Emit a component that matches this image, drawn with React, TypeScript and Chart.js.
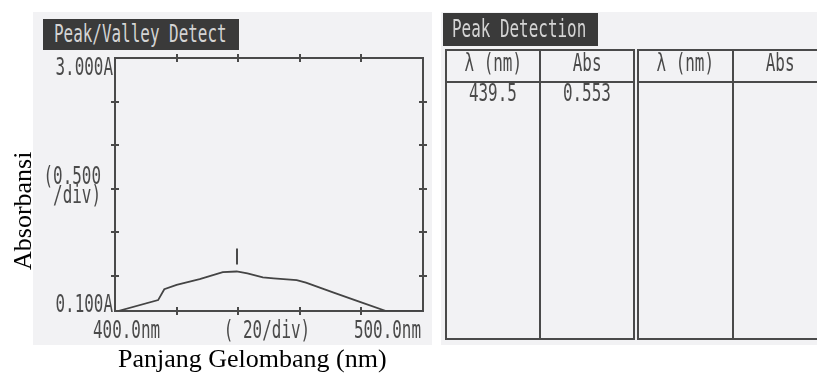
import { useEffect, useRef } from 'react';
import { Chart, registerables } from 'chart.js';

Chart.register(...registerables);

// ---- data ----
const wavelengths = [401, 414, 416, 420, 427.5, 435, 439.5, 443, 448, 451.5, 459, 462, 471, 479.5, 488, 500];
const absorbance = [0.1, 0.225, 0.35, 0.4, 0.465, 0.545, 0.553, 0.53, 0.485, 0.475, 0.455, 0.425, 0.31, 0.205, 0.1, 0.1];
const xTicks = [400, 420, 440, 460, 480, 500];
const yTicks = [0.1, 0.5, 1.0, 1.5, 2.0, 2.5, 3.0];
const xLabelStart = '400.0nm';
const xLabelMid = '( 20/div)';
const xLabelEnd = '500.0nm';
const yLabelTop = '3.000A';
const yLabelMid = ['(0.500', '/div)'];
const yLabelBottom = '0.100A';
const peakWavelengths = [439.5];
const peakAbsorbances = [0.553];
const chartTitle = 'Peak/Valley Detect';
const tableTitle = 'Peak Detection';
const tableHeaders = ['λ (nm)', 'Abs'];
const xAxisTitle = 'Panjang Gelombang (nm)';
const yAxisTitle = 'Absorbansi';

// ---- styles ----
const INK = '#4a4a4a';
const PAPER = 'rgb(242,242,244)';
const DARK = '#3a3a3a';
const LIGHT = '#d4d4d4';
const MONO = '"DejaVu Sans Mono", "Liberation Mono", monospace';
const SERIF = '"Liberation Serif", "Times New Roman", serif';
const SX = 0.65;
const FS = 24.5;

function condensed(ctx: CanvasRenderingContext2D, text: string, x: number, y: number, align: CanvasTextAlign) {
  ctx.save();
  ctx.translate(x, y);
  ctx.scale(SX, 1);
  ctx.textAlign = align;
  ctx.textBaseline = 'alphabetic';
  ctx.fillText(text, 0, 0);
  ctx.restore();
}

const printerPlugin = {
  id: 'printer',
  afterDraw(chart: any) {
    const { ctx, chartArea: a, scales } = chart;
    const x = scales.x;
    const y = scales.y;
    ctx.save();
    ctx.strokeStyle = INK;
    ctx.lineWidth = 2;
    ctx.beginPath();
    xTicks.slice(1, -1).forEach((v) => {
      const px = Math.round(x.getPixelForValue(v));
      ctx.moveTo(px, a.bottom - 4);
      ctx.lineTo(px, a.bottom + 4);
      ctx.moveTo(px, a.top - 4);
      ctx.lineTo(px, a.top + 4);
    });
    yTicks.slice(1, -1).forEach((v) => {
      const py = Math.round(y.getPixelForValue(v));
      ctx.moveTo(a.left - 4, py);
      ctx.lineTo(a.left + 4, py);
      ctx.moveTo(a.right - 4, py);
      ctx.lineTo(a.right + 4, py);
    });
    // peak markers
    peakWavelengths.forEach((w, i) => {
      const px = Math.round(x.getPixelForValue(w));
      const py = y.getPixelForValue(peakAbsorbances[i]);
      ctx.moveTo(px, py - 23);
      ctx.lineTo(px, py - 7);
    });
    ctx.stroke();

    ctx.fillStyle = INK;
    ctx.font = `${FS}px ${MONO}`;
    const yTop = y.getPixelForValue(yTicks[yTicks.length - 1]);
    const yBot = y.getPixelForValue(yTicks[0]);
    const yMid = y.getPixelForValue(yTicks[3]);
    condensed(ctx, yLabelTop, a.left - 2, yTop + 17, 'right');
    condensed(ctx, yLabelMid[0], a.left - 14, yMid - 5, 'right');
    condensed(ctx, yLabelMid[1], a.left - 14, yMid + 14, 'right');
    condensed(ctx, yLabelBottom, a.left - 2, yBot + 1, 'right');
    const xl = x.getPixelForValue(xTicks[0]);
    const xr = x.getPixelForValue(xTicks[xTicks.length - 1]);
    const base = a.bottom + 27;
    condensed(ctx, xLabelStart, xl - 22, base, 'left');
    condensed(ctx, xLabelMid, (xl + xr) / 2 - 2, base, 'center');
    condensed(ctx, xLabelEnd, xr - 2, base, 'right');
    ctx.restore();
  },
};

function axisCommon(extra: any) {
  return {
    type: 'linear',
    ticks: { display: false },
    grid: { drawOnChartArea: false, drawTicks: false, color: INK, lineWidth: 2 },
    border: { display: true, color: INK, width: 2 },
    ...extra,
  };
}

function Txt(props: { x: number; base: number; w?: number; align?: 'left' | 'center'; color?: string; text: string }) {
  const { x, base, w, align = 'left', color = INK, text } = props;
  const top = base - 0.846 * FS;
  return (
    <div
      style={{
        position: 'absolute',
        left: x,
        top,
        width: w,
        textAlign: align,
        font: `${FS}px ${MONO}`,
        lineHeight: `${FS}px`,
        color,
        whiteSpace: 'pre',
      }}
    >
      <span style={{ display: 'inline-block', transform: `scaleX(${SX})`, transformOrigin: align === 'center' ? 'center' : 'left' }}>
        {text}
      </span>
    </div>
  );
}

function Line(props: { l: number; t: number; w: number; h: number }) {
  return <div style={{ position: 'absolute', left: props.l, top: props.t, width: props.w, height: props.h, background: INK }} />;
}

export default function App() {
  const ref = useRef<HTMLCanvasElement | null>(null);

  useEffect(() => {
    document.body.style.margin = '0';
    const canvas = ref.current;
    if (!canvas) return;
    const chart = new Chart(canvas, {
      type: 'line',
      data: {
        datasets: [
          {
            data: wavelengths.map((w, i) => ({ x: w, y: absorbance[i] })),
            borderColor: '#444444',
            borderWidth: 1.8,
            pointRadius: 0,
            tension: 0,
            fill: false,
            xAxisID: 'x',
            yAxisID: 'y',
          },
        ],
      },
      options: {
        animation: false,
        responsive: false,
        events: [],
        layout: { padding: 0 },
        plugins: { legend: { display: false }, tooltip: { enabled: false }, title: { display: false } },
        scales: {
          x: axisCommon({
            position: 'bottom',
            min: xTicks[0],
            max: xTicks[xTicks.length - 1],
            afterBuildTicks: (s: any) => { s.ticks = xTicks.map((v) => ({ value: v })); },
            afterFit: (s: any) => { s.height = 34; },
          }),
          xTop: axisCommon({
            position: 'top',
            min: xTicks[0],
            max: xTicks[xTicks.length - 1],
            afterFit: (s: any) => { s.height = 46; },
          }),
          y: axisCommon({
            position: 'left',
            min: yTicks[0],
            max: yTicks[yTicks.length - 1],
            afterBuildTicks: (s: any) => { s.ticks = yTicks.map((v) => ({ value: v })); },
            afterFit: (s: any) => { s.width = 82; },
          }),
          yRight: axisCommon({
            position: 'right',
            min: yTicks[0],
            max: yTicks[yTicks.length - 1],
            afterFit: (s: any) => { s.width = 9; },
          }),
        },
      } as any,
      plugins: [printerPlugin],
    });
    return () => chart.destroy();
  }, []);

  const col1 = [446, 540];
  const col2 = [540, 634];

  return (
    <div style={{ position: 'relative', width: 817, height: 374, background: '#fff', overflow: 'hidden' }}>
      {/* left printout */}
      <div style={{ position: 'absolute', left: 33, top: 12, width: 399, height: 333, background: PAPER }} />
      <canvas ref={ref} width={399} height={333} style={{ position: 'absolute', left: 33, top: 12, width: 399, height: 333 }} />
      <div style={{ position: 'absolute', left: 43, top: 19, width: 196, height: 31, background: DARK }} />
      <Txt x={54} base={43} color={LIGHT} text={chartTitle} />

      {/* right printout */}
      <div style={{ position: 'absolute', left: 441, top: 12, width: 376, height: 333, background: PAPER }} />
      <div style={{ position: 'absolute', left: 443, top: 13, width: 155, height: 33, background: DARK }} />
      <Txt x={452} base={38} color={LIGHT} text={tableTitle} />

      {/* table 1 */}
      <Line l={445} t={49} w={190} h={2} />
      <Line l={445} t={338} w={190} h={2} />
      <Line l={445} t={49} w={2} h={291} />
      <Line l={633} t={49} w={2} h={291} />
      <Line l={445} t={81} w={190} h={2} />
      <Line l={539} t={49} w={2} h={291} />
      <Txt x={col1[0]} w={col1[1] - col1[0]} align="center" base={72} text={tableHeaders[0]} />
      <Txt x={col2[0]} w={col2[1] - col2[0]} align="center" base={72} text={tableHeaders[1]} />
      {peakWavelengths.map((w, i) => (
        <div key={i}>
          <Txt x={col1[0]} w={col1[1] - col1[0]} align="center" base={102 + i * 22} text={w.toFixed(1)} />
          <Txt x={col2[0]} w={col2[1] - col2[0]} align="center" base={102 + i * 22} text={peakAbsorbances[i].toFixed(3)} />
        </div>
      ))}

      {/* table 2 */}
      <Line l={637} t={49} w={200} h={2} />
      <Line l={637} t={338} w={200} h={2} />
      <Line l={637} t={49} w={2} h={291} />
      <Line l={637} t={81} w={200} h={2} />
      <Line l={732} t={49} w={2} h={291} />
      <Txt x={638} w={95} align="center" base={72} text={tableHeaders[0]} />
      <Txt x={733} w={95} align="center" base={72} text={tableHeaders[1]} />

      {/* axis titles */}
      <div
        style={{
          position: 'absolute',
          left: 0,
          top: 0,
          font: `26px ${SERIF}`,
          lineHeight: '26px',
          color: '#000',
          whiteSpace: 'nowrap',
          transformOrigin: 'left top',
          transform: 'translate(10px, 270px) rotate(-90deg)',
        }}
      >
        {yAxisTitle}
      </div>
      <div
        style={{
          position: 'absolute',
          left: 118,
          top: 346,
          font: `26px ${SERIF}`,
          lineHeight: '26px',
          color: '#000',
          whiteSpace: 'nowrap',
        }}
      >
        {xAxisTitle}
      </div>
    </div>
  );
}
